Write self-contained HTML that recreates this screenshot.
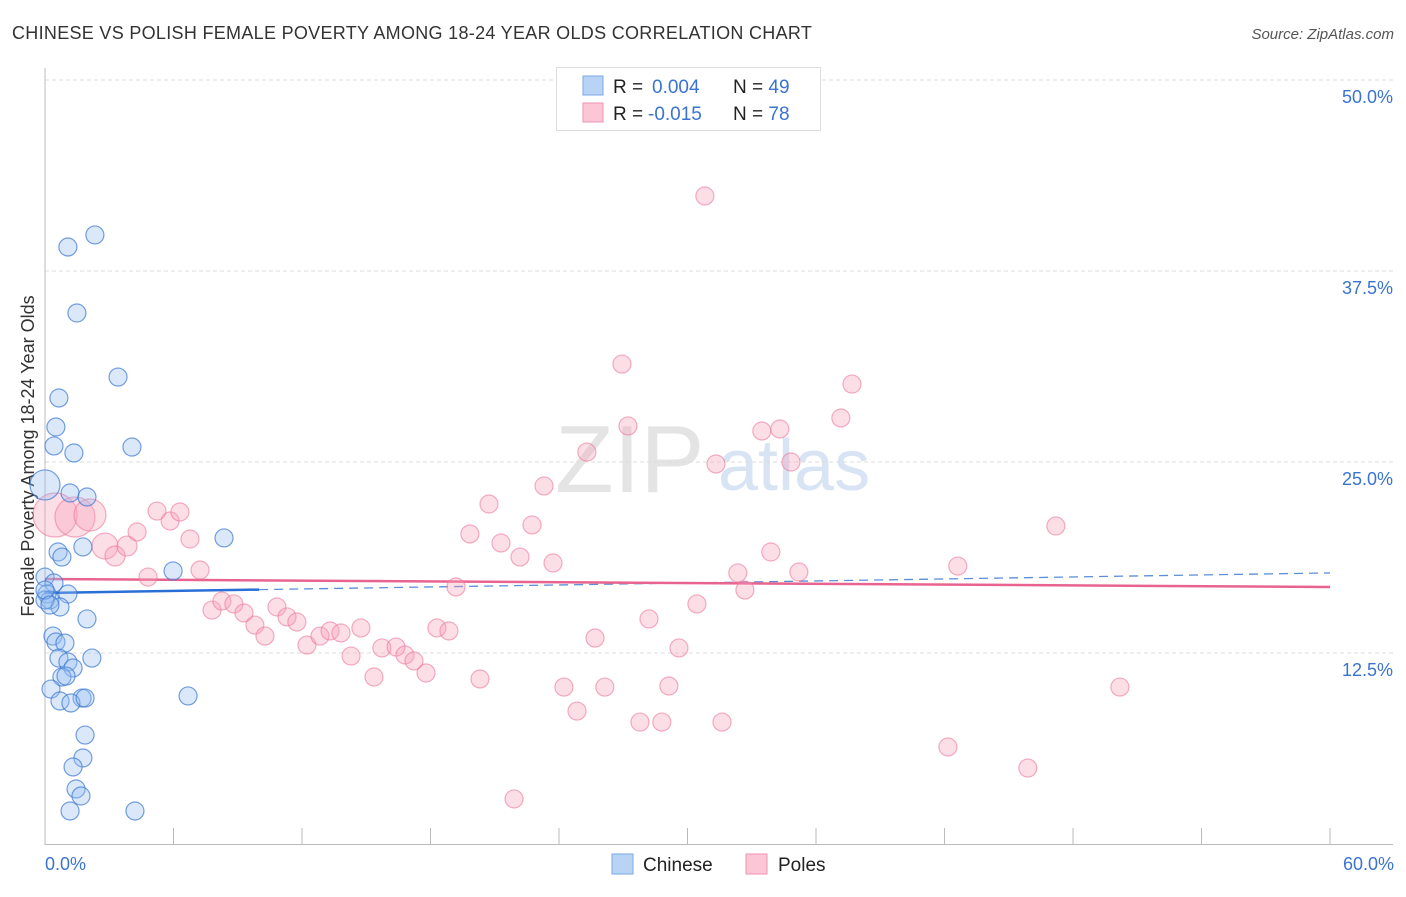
<!DOCTYPE html>
<html><head><meta charset="utf-8"><style>
body{margin:0;background:#fff;font-family:"Liberation Sans",sans-serif;}
svg text{font-family:"Liberation Sans",sans-serif;}
</style></head><body>
<svg id="chart" width="1406" height="892" xmlns="http://www.w3.org/2000/svg">
<text x="12" y="39" font-size="18" fill="#333" letter-spacing="0.3">CHINESE VS POLISH FEMALE POVERTY AMONG 18-24 YEAR OLDS CORRELATION CHART</text>
<text x="1394" y="39" font-size="15" fill="#555" font-style="italic" text-anchor="end">Source: ZipAtlas.com</text>
<g>
<text x="555" y="492" font-size="96" fill="#e4e4e4" font-family="Liberation Serif">ZIP</text>
<text x="718" y="490" font-size="72" fill="#d8e4f3">atlas</text>
</g>
<g id="grid"></g>
<line x1="45" y1="68" x2="45" y2="845" stroke="#bbb" stroke-width="1"/>
<line x1="45" y1="844.5" x2="1393" y2="844.5" stroke="#bbb" stroke-width="1"/>
<g id="xticks"></g>
<text x="45" y="870" font-size="18" fill="#3a74d0">0.0%</text>
<text x="1394" y="870" font-size="18" fill="#3a74d0" text-anchor="end">60.0%</text>
<text transform="translate(34,456) rotate(-90)" font-size="18" fill="#333" text-anchor="middle">Female Poverty Among 18-24 Year Olds</text>
<g id="trends"></g>
<g id="pts"></g>
<g>
<rect x="556.5" y="67.5" width="264" height="63" fill="#fff" stroke="#ddd"/>
<rect x="583" y="76" width="20" height="19" fill="#b9d3f5" stroke="#7aa8e6"/>
<rect x="583" y="103" width="20" height="19" fill="#fbc7d6" stroke="#ef93b0"/>
<text x="613" y="93" font-size="19" fill="#222">R = <tspan fill="#3a74d0" x="652">0.004</tspan><tspan x="733">N = </tspan><tspan fill="#3a74d0">49</tspan></text>
<text x="613" y="120" font-size="19" fill="#222">R = <tspan fill="#3a74d0" x="648">-0.015</tspan><tspan x="733">N = </tspan><tspan fill="#3a74d0">78</tspan></text>
</g>
<g>
<rect x="612" y="854" width="21" height="20" fill="#b9d3f5" stroke="#7aa8e6"/>
<text x="643" y="871" font-size="19" fill="#222">Chinese</text>
<rect x="746" y="854" width="21" height="20" fill="#fbc7d6" stroke="#ef93b0"/>
<text x="778" y="871" font-size="19" fill="#222">Poles</text>
</g>
</svg>
<script>
const yTicks=[12.5,25,37.5,50];
const yTickLabels=["12.5%","25.0%","37.5%","50.0%"];
const xTicks=[6,12,18,24,30,36,42,48,54,60];
const chineseX=[0,1.07,2.33,1.49,3.41,0.65,0.51,0.42,1.35,4.06,1.17,1.96,8.36,1.77,0.61,0.79,0,0.42,5.98,0.09,1.07,0.23,0.70,1.96,0.37,0.51,0.93,2.19,0.65,1.07,1.31,0.79,0.98,0.28,6.68,0.70,1.73,1.21,1.87,1.87,1.77,1.31,1.45,1.68,1.17,4.20,0,0,0.23];
const chineseY=[23.5,39.07,39.86,34.75,30.56,29.19,27.29,26.05,25.59,25.98,22.97,22.71,20.03,19.44,19.11,18.78,17.47,17.08,17.87,16.36,16.36,15.97,15.51,14.73,13.61,13.22,13.15,12.17,12.17,11.91,11.52,10.93,10.99,10.14,9.69,9.36,9.55,9.23,9.55,7.13,5.63,5.04,3.60,3.14,2.16,2.16,15.97,16.62,15.64];
const chineseSize=[15];
const polesX=[0.47,1.40,2.10,2.80,3.27,3.83,5.23,5.84,6.30,4.30,6.77,4.81,7.24,7.80,8.26,8.82,9.29,9.80,10.27,10.83,11.30,11.76,12.23,12.84,13.31,13.82,14.29,14.75,15.36,15.73,16.39,16.81,17.23,17.79,18.30,18.86,19.19,19.84,20.31,20.73,21.29,21.90,22.18,22.74,23.30,23.72,24.23,24.84,25.30,25.68,26.14,26.94,27.22,27.78,28.20,28.80,29.13,29.60,30.44,30.81,31.33,31.61,32.35,32.68,33.47,33.89,34.31,34.83,35.20,37.16,37.68,42.16,42.62,45.89,47.20,50.19];
const polesY=[21.53,21.40,21.53,19.50,18.85,19.50,21.79,21.14,21.73,20.42,19.96,17.47,17.93,15.31,15.90,15.71,15.12,14.33,13.61,15.51,14.86,14.53,13.02,13.61,13.94,13.81,12.30,14.14,10.93,12.83,12.89,12.37,11.98,11.19,14.14,13.94,16.82,20.29,10.80,22.25,19.70,2.95,18.78,20.88,23.43,18.39,10.27,8.70,25.65,13.48,10.27,31.41,27.36,7.98,14.73,7.98,10.34,12.83,15.71,42.41,24.87,7.98,17.74,16.62,27.03,19.11,27.16,25.00,17.80,27.88,30.10,6.35,18.19,4.97,20.81,10.27];
const polesSize=[22,20,16,13,10,10];
const chineseTrend=[16.43,17.74];
const polesTrend=[17.34,16.82];
const NS="http://www.w3.org/2000/svg";
const sx=v=>45+v*21.417;
const sy=v=>844-v*15.28;
function mk(tag,attrs,parent){const e=document.createElementNS(NS,tag);for(const k in attrs)e.setAttribute(k,attrs[k]);parent.appendChild(e);return e;}
const grid=document.getElementById('grid');
yTicks.forEach((t,i)=>{
  const l=mk('line',{x1:45,x2:1393,y1:sy(t),y2:sy(t),stroke:'#ddd','stroke-dasharray':'4,3'},grid);
  
  
  const tx=mk('text',{x:1393,y:sy(t)+23,'font-size':18,fill:'#3a74d0','text-anchor':'end'},grid);
  tx.textContent=yTickLabels[i];
  
  
});
const xt=document.getElementById('xticks');
xTicks.forEach(t=>{
  const l=mk('line',{x1:sx(t),x2:sx(t),y1:828,y2:844,stroke:'#bbb'},xt);
  
  
});
const pts=document.getElementById('pts');
polesX.forEach((x,i)=>{
  const c=mk('circle',{cx:sx(x),cy:sy(polesY[i]),r:polesSize[i]||9,fill:'rgba(246,160,186,0.35)',stroke:'rgba(236,120,156,0.6)','stroke-width':1.2},pts);
  
  
});
chineseX.forEach((x,i)=>{
  const c=mk('circle',{cx:sx(x),cy:sy(chineseY[i]),r:chineseSize[i]||9,fill:'rgba(150,190,240,0.35)',stroke:'rgba(60,120,210,0.7)','stroke-width':1.2},pts);
  
  
});
const tr=document.getElementById('trends');
const cAt=x=>chineseTrend[0]+(chineseTrend[1]-chineseTrend[0])*x/60;
let l1=mk('line',{x1:sx(10),y1:sy(cAt(10)),x2:sx(60),y2:sy(cAt(60)),stroke:'#5a8fd8','stroke-width':1.3,'stroke-dasharray':'9,6'},tr);


let l2=mk('line',{x1:sx(0),y1:sy(cAt(0)),x2:sx(10),y2:sy(cAt(10)),stroke:'#2a6fd6','stroke-width':2.5},tr);


let l3=mk('line',{x1:sx(0),y1:sy(polesTrend[0]),x2:sx(60),y2:sy(polesTrend[1]),stroke:'#e8648f','stroke-width':2.5},tr);


</script>
</body></html>
